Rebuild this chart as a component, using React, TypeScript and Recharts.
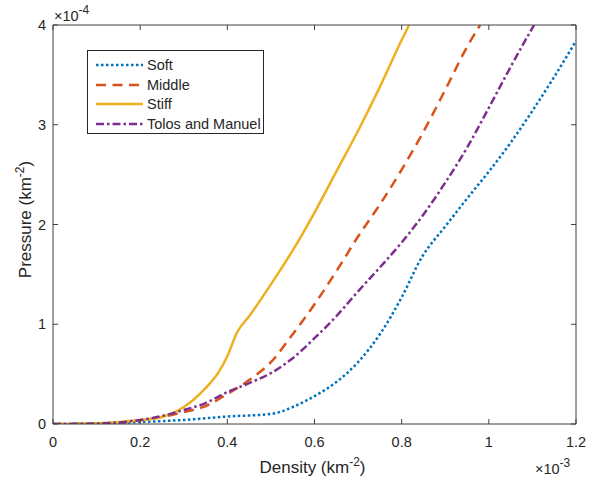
import React from 'react';
import { LineChart, Line, XAxis, YAxis } from 'recharts';

// x in units of 1e-3 km^-2, y in units of 1e-4 km^-2
const xTicks = [0, 0.2, 0.4, 0.6, 0.8, 1, 1.2];
const yTicks = [0, 1, 2, 3, 4];

const softX = [0, 0.1, 0.2, 0.3, 0.4, 0.5, 0.52, 0.55, 0.6, 0.65, 0.7, 0.75, 0.8, 0.846, 0.9, 0.95, 1.0, 1.05, 1.1, 1.15, 1.2];
const softY = [0, 0.005, 0.02, 0.04, 0.075, 0.1, 0.12, 0.17, 0.28, 0.42, 0.62, 0.9, 1.27, 1.67, 1.98, 2.26, 2.53, 2.82, 3.14, 3.48, 3.84];

const middleX = [0, 0.1, 0.2, 0.25, 0.3, 0.35, 0.4, 0.45, 0.5, 0.55, 0.6, 0.65, 0.7, 0.75, 0.8, 0.85, 0.9, 0.95, 0.98];
const middleY = [0, 0.005, 0.035, 0.07, 0.12, 0.18, 0.3, 0.44, 0.62, 0.9, 1.2, 1.53, 1.88, 2.2, 2.55, 2.93, 3.35, 3.78, 4.0];

const stiffX = [0, 0.1, 0.2, 0.25, 0.3, 0.35, 0.38, 0.4, 0.4225, 0.45, 0.5, 0.55, 0.6, 0.65, 0.7, 0.75, 0.8, 0.817];
const stiffY = [0, 0.008, 0.04, 0.07, 0.17, 0.36, 0.52, 0.68, 0.92, 1.08, 1.4, 1.74, 2.12, 2.53, 2.94, 3.38, 3.85, 4.0];

const tolosX = [0, 0.1, 0.2, 0.25, 0.3, 0.35, 0.4, 0.45, 0.5, 0.55, 0.6, 0.65, 0.7, 0.75, 0.8, 0.85, 0.9, 0.95, 1.0, 1.05, 1.1, 1.104];
const tolosY = [0, 0.005, 0.04, 0.08, 0.14, 0.21, 0.32, 0.41, 0.51, 0.66, 0.86, 1.08, 1.33, 1.57, 1.82, 2.1, 2.42, 2.77, 3.17, 3.58, 3.97, 4.0];

const zip = (xs: number[], ys: number[]) => xs.map((x, i) => ({ x, y: ys[i] }));

const series = [
  { name: 'Soft', color: '#0072BD', dash: '2.5 2.5', data: zip(softX, softY) },
  { name: 'Middle', color: '#D95319', dash: '10 6.5', data: zip(middleX, middleY) },
  { name: 'Stiff', color: '#EDB120', dash: undefined, data: zip(stiffX, stiffY) },
  { name: 'Tolos and Manuel', color: '#7E2F8E', dash: '8 3 2.5 3', data: zip(tolosX, tolosY) },
];

const FONT = '"Liberation Sans", Arial, Helvetica, sans-serif';
const AXIS = '#404040';
const TEXT = '#262626';

const BottomTick = (props: any) => {
  const { x, y, payload } = props;
  return (
    <g>
      <line x1={x} y1={y} x2={x} y2={y - 5} stroke={AXIS} />
      <text x={x} y={y + 23} textAnchor="middle" fontSize={14.5} fill={TEXT} fontFamily={FONT}>
        {String(payload.value)}
      </text>
    </g>
  );
};

const LeftTick = (props: any) => {
  const { x, y, payload } = props;
  return (
    <g>
      <line x1={x} y1={y} x2={x + 5} y2={y} stroke={AXIS} />
      <text x={x - 7} y={y + 5} textAnchor="end" fontSize={14.5} fill={TEXT} fontFamily={FONT}>
        {String(payload.value)}
      </text>
    </g>
  );
};

const TopTick = (props: any) => {
  const { x, y } = props;
  return <line x1={x} y1={y} x2={x} y2={y + 5} stroke={AXIS} />;
};

const RightTick = (props: any) => {
  const { x, y } = props;
  return <line x1={x} y1={y} x2={x - 5} y2={y} stroke={AXIS} />;
};

const XTitle = (props: any) => {
  const { x, y, width } = props.viewBox;
  return (
    <g fontFamily={FONT} fill={TEXT}>
      <text x={x + width / 2 - 2} y={y + 49} textAnchor="middle" fontSize={17}>
        Density (km<tspan dy={-7} fontSize={12}>-2</tspan><tspan dy={7}>)</tspan>
      </text>
      <text x={x + width - 41} y={y + 50} fontSize={14.5}>
        ×10<tspan dy={-7} fontSize={12}>-3</tspan>
      </text>
    </g>
  );
};

const YTitle = (props: any) => {
  const { y, height } = props.viewBox;
  const cx = 31;
  const cy = y + height / 2 - 5;
  return (
    <text
      x={cx}
      y={cy}
      transform={`rotate(-90 ${cx} ${cy})`}
      textAnchor="middle"
      fontSize={17}
      fill={TEXT}
      fontFamily={FONT}
    >
      Pressure (km<tspan dy={-7} fontSize={12}>-2</tspan><tspan dy={7}>)</tspan>
    </text>
  );
};

const TopLabel = (props: any) => {
  const { x, y } = props.viewBox;
  return (
    <text x={x + 1} y={y - 3} fontSize={14.5} fill={TEXT} fontFamily={FONT}>
      ×10<tspan dy={-7} fontSize={12}>-4</tspan>
    </text>
  );
};

const LegendBox = () => (
  <div
    style={{
      position: 'absolute',
      left: 87,
      top: 50,
      width: 175,
      height: 82,
      border: `1px solid ${TEXT}`,
      background: '#fff',
      fontFamily: FONT,
      fontSize: 14.5,
      color: TEXT,
      boxSizing: 'content-box',
    }}
  >
    {series.map((s, i) => (
      <div key={s.name} style={{ position: 'absolute', left: 0, top: 5 + i * 19.5, height: 18, display: 'flex', alignItems: 'center' }}>
        <svg width={58} height={18} style={{ display: 'block' }}>
          <line x1={8} y1={9} x2={55} y2={9} stroke={s.color} strokeWidth={2.5} strokeDasharray={s.dash} />
        </svg>
        <span style={{ marginLeft: 1, whiteSpace: 'nowrap' }}>{s.name}</span>
      </div>
    ))}
  </div>
);

export default function App() {
  return (
    <div style={{ position: 'absolute', left: 0, top: 0, width: 611, height: 479, background: '#fff' }}>
      <LineChart width={611} height={479} margin={{ top: 24, right: 34, bottom: 25, left: 13 }}>
        <XAxis
          dataKey="x"
          type="number"
          domain={[0, 1.2]}
          ticks={xTicks}
          interval={0}
          allowDataOverflow
          height={30}
          tickSize={0}
          tickMargin={0}
          tickLine={false}
          axisLine={{ stroke: AXIS }}
          tick={<BottomTick />}
          label={{ content: XTitle }}
        />
        <XAxis
          xAxisId="top"
          orientation="top"
          dataKey="x"
          type="number"
          domain={[0, 1.2]}
          ticks={xTicks}
          interval={0}
          allowDataOverflow
          height={1}
          tickSize={0}
          tickMargin={0}
          tickLine={false}
          axisLine={{ stroke: AXIS }}
          tick={<TopTick />}
          label={{ content: TopLabel }}
        />
        <YAxis
          type="number"
          domain={[0, 4]}
          ticks={yTicks}
          interval={0}
          allowDataOverflow
          width={40}
          tickSize={0}
          tickMargin={0}
          tickLine={false}
          axisLine={{ stroke: AXIS }}
          tick={<LeftTick />}
          label={{ content: YTitle }}
        />
        <YAxis
          yAxisId="right"
          orientation="right"
          type="number"
          domain={[0, 4]}
          ticks={yTicks}
          interval={0}
          allowDataOverflow
          width={1}
          tickSize={0}
          tickMargin={0}
          tickLine={false}
          axisLine={{ stroke: AXIS }}
          tick={<RightTick />}
        />
        {series.map((s) => (
          <Line
            key={s.name}
            data={s.data}
            dataKey="y"
            name={s.name}
            type="monotone"
            stroke={s.color}
            strokeWidth={2.5}
            strokeDasharray={s.dash}
            dot={false}
            activeDot={false}
            isAnimationActive={false}
          />
        ))}
      </LineChart>
      <LegendBox />
    </div>
  );
}
